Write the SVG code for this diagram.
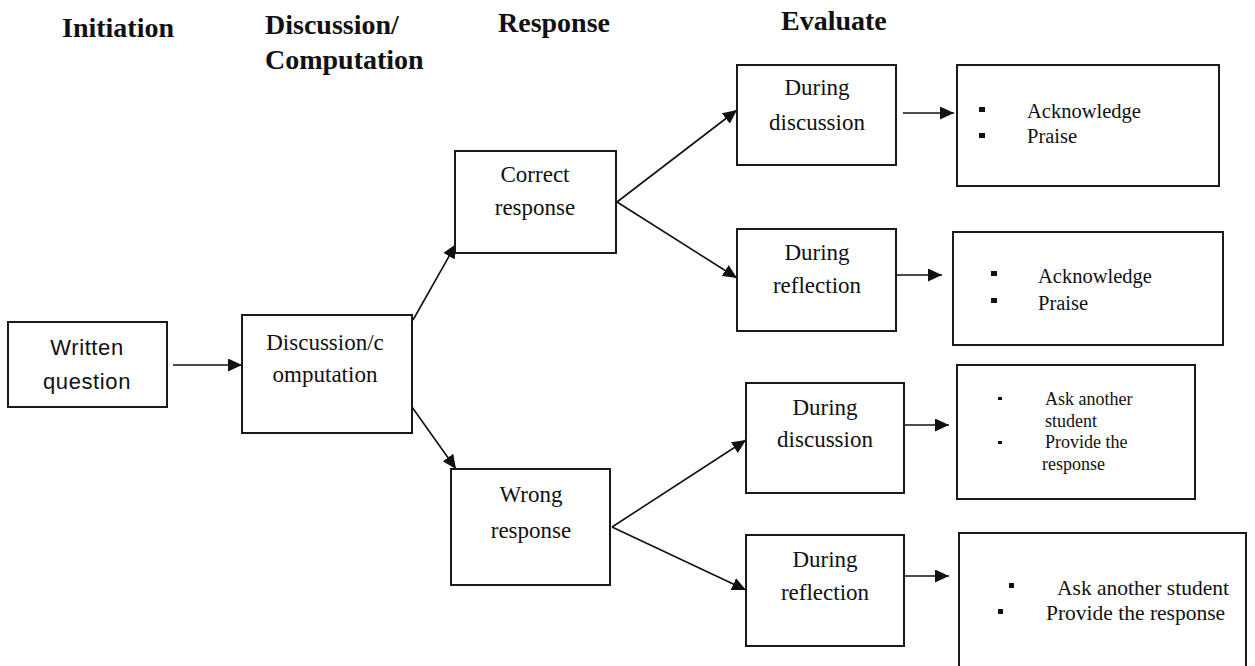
<svg xmlns="http://www.w3.org/2000/svg" width="1255" height="666" viewBox="0 0 1255 666">
<style>
.box{fill:#fff;stroke:#1a1a1a;stroke-width:2}
.hd{font-family:"Liberation Serif",serif;font-weight:bold;font-size:28px;fill:#111}
.t{font-family:"Liberation Serif",serif;font-size:23px;fill:#111;text-anchor:middle}
.s{font-family:"Liberation Serif",serif;font-size:20.5px;fill:#111}
.s4{font-family:"Liberation Serif",serif;font-size:21.5px;fill:#111}
.xs{font-family:"Liberation Serif",serif;font-size:18px;fill:#111}
.sans{font-family:"Liberation Sans",sans-serif;font-size:22px;letter-spacing:0.6px;fill:#111;text-anchor:middle}
.c{stroke:#111;stroke-width:1.6;fill:none;marker-end:url(#ah)}
.b{fill:#111}
</style>
<defs>
<marker id="ah" markerUnits="userSpaceOnUse" markerWidth="15" markerHeight="13" refX="14" refY="6.5" orient="auto">
<path d="M0,0 L14,6.5 L0,13 z" fill="#111"/>
</marker>
</defs>
<rect width="1255" height="666" fill="#fff"/>
<g id="headers">
<text class="hd" x="62" y="37">Initiation</text>
<text class="hd" x="265" y="34">Discussion/</text>
<text class="hd" x="265" y="69">Computation</text>
<text class="hd" x="498" y="32">Response</text>
<text class="hd" x="781" y="30">Evaluate</text>
</g>
<g id="connectors">
<line class="c" x1="173" y1="365" x2="242" y2="365"/>
<line class="c" x1="413" y1="320" x2="456" y2="244"/>
<line class="c" x1="412" y1="407" x2="456" y2="469"/>
<line class="c" x1="617" y1="202" x2="737" y2="110"/>
<line class="c" x1="617" y1="202" x2="737" y2="278"/>
<line class="c" x1="612" y1="527" x2="746" y2="440"/>
<line class="c" x1="612" y1="527" x2="746" y2="590"/>
<line class="c" x1="903" y1="113" x2="954" y2="113"/>
<line class="c" x1="896" y1="275" x2="942" y2="275"/>
<line class="c" x1="904" y1="425" x2="949" y2="425"/>
<line class="c" x1="904" y1="576" x2="949" y2="576"/>
</g>
<g id="written">
<rect class="box" x="8" y="322" width="159" height="85"/>
<text class="sans" x="87" y="355">Written</text>
<text class="sans" x="87" y="389">question</text>
</g>
<g id="discussion">
<rect class="box" x="242" y="315" width="170" height="118"/>
<text class="t" x="325" y="350">Discussion/c</text>
<text class="t" x="325" y="382">omputation</text>
</g>
<g id="correct">
<rect class="box" x="455" y="151" width="161" height="102"/>
<text class="t" x="535" y="182">Correct</text>
<text class="t" x="535" y="215">response</text>
</g>
<g id="wrong">
<rect class="box" x="451" y="469" width="159" height="116"/>
<text class="t" x="531" y="502">Wrong</text>
<text class="t" x="531" y="538">response</text>
</g>
<g id="dd1">
<rect class="box" x="737" y="65" width="159" height="100"/>
<text class="t" x="817" y="95">During</text>
<text class="t" x="817" y="130">discussion</text>
</g>
<g id="dr1">
<rect class="box" x="737" y="229" width="159" height="102"/>
<text class="t" x="817" y="260">During</text>
<text class="t" x="817" y="293">reflection</text>
</g>
<g id="dd2">
<rect class="box" x="746" y="383" width="158" height="110"/>
<text class="t" x="825" y="415">During</text>
<text class="t" x="825" y="447">discussion</text>
</g>
<g id="dr2">
<rect class="box" x="746" y="535" width="158" height="111"/>
<text class="t" x="825" y="567">During</text>
<text class="t" x="825" y="600">reflection</text>
</g>
<g id="r1">
<rect class="box" x="957" y="65" width="262" height="121"/>
<rect class="b" x="979" y="107" width="6" height="5"/>
<rect class="b" x="979" y="133" width="6" height="5"/>
<text class="s" x="1027" y="118">Acknowledge</text>
<text class="s" x="1027" y="143">Praise</text>
</g>
<g id="r2">
<rect class="box" x="953" y="232" width="270" height="113"/>
<rect class="b" x="991" y="271" width="6" height="5"/>
<rect class="b" x="991" y="298" width="6" height="5"/>
<text class="s" x="1038" y="283">Acknowledge</text>
<text class="s" x="1038" y="310">Praise</text>
</g>
<g id="r3">
<rect class="box" x="957" y="365" width="238" height="134"/>
<rect class="b" x="998" y="397" width="4" height="3"/>
<rect class="b" x="998" y="441" width="4" height="3"/>
<text class="xs" x="1045" y="405">Ask another</text>
<text class="xs" x="1045" y="427">student</text>
<text class="xs" x="1045" y="448">Provide the</text>
<text class="xs" x="1042" y="470">response</text>
</g>
<g id="r4">
<rect class="box" x="959" y="533" width="287" height="150"/>
<rect class="b" x="1009" y="583" width="5" height="5"/>
<rect class="b" x="998" y="609" width="5" height="5"/>
<text class="s4" x="1057" y="595">Ask another student</text>
<text class="s4" x="1046" y="620">Provide the response</text>
</g>
</svg>
